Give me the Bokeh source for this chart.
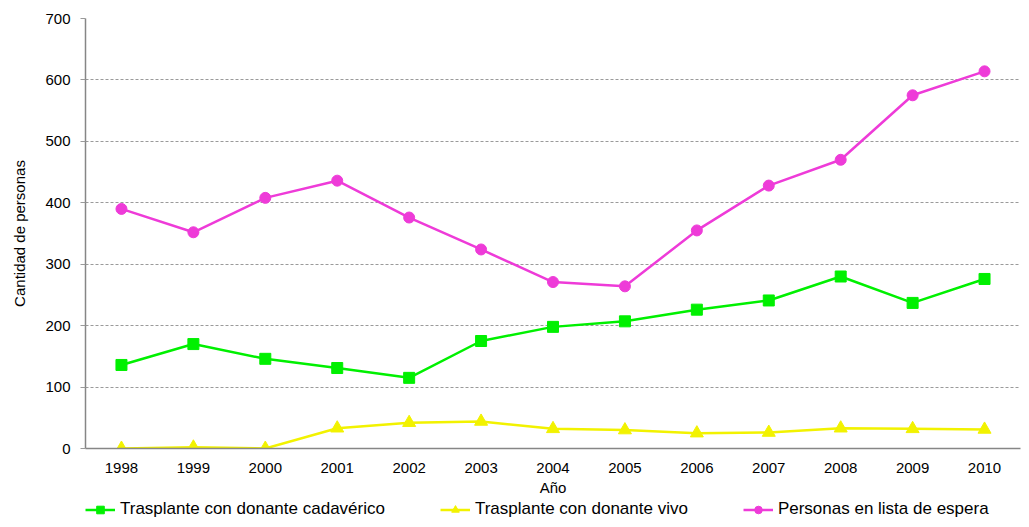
from bokeh.plotting import figure
from bokeh.layouts import column
from bokeh.models import Legend, LegendItem, FixedTicker, FactorRange, Range1d
from bokeh.embed import file_html
from bokeh.resources import INLINE

years = ["1998", "1999", "2000", "2001", "2002", "2003", "2004",
         "2005", "2006", "2007", "2008", "2009", "2010"]
cadaverico = [136, 170, 146, 131, 115, 175, 198, 207, 226, 241, 280, 237, 276]
vivo = [0, 2, 0, 33, 42, 44, 32, 30, 25, 26, 33, 32, 31]
espera = [390, 352, 408, 436, 376, 324, 271, 264, 355, 428, 470, 575, 614]

label_cad = "Trasplante con donante cadavérico"
label_viv = "Trasplante con donante vivo"
label_esp = "Personas en lista de espera"
y_ticks = [0, 100, 200, 300, 400, 500, 600, 700]

GREEN = "#00F000"
YELLOW = "#F2F200"
PINK = "#EE3BD8"
FONT = "Liberation Sans"

p = figure(width=1021, height=498, output_backend="svg", toolbar_location=None,
           x_range=FactorRange(*years, range_padding=0), y_range=Range1d(0, 700),
           min_border_left=85, min_border_top=18, min_border_bottom=48, min_border_right=1)
p.outline_line_color = None

series = [
    (cadaverico, GREEN, "square", 11, label_cad),
    (vivo, YELLOW, "triangle", 13, label_viv),
    (espera, PINK, "circle", 11, label_esp),
]
for vals, col, mk, sz, lab in series:
    p.line(years, vals, line_color=col, line_width=2.5)
    p.scatter(years, vals, marker=mk, size=sz, fill_color=col, line_color=col)

p.xgrid.grid_line_color = None
p.ygrid.grid_line_color = "#9A9A9A"
p.ygrid.grid_line_dash = "3 2"
p.ygrid.grid_line_width = 1

p.yaxis.ticker = FixedTicker(ticks=y_ticks)
for ax in (p.xaxis[0], p.yaxis[0]):
    ax.axis_line_color = "#868686"
    ax.axis_line_width = 1.5
    ax.major_label_text_font = FONT
    ax.major_label_text_font_size = "15px"
    ax.major_label_text_color = "#000000"
    ax.axis_label_text_font = FONT
    ax.axis_label_text_font_style = "normal"
    ax.axis_label_text_font_size = "15px"
    ax.axis_label_text_color = "#000000"
    ax.minor_tick_line_color = None

p.xaxis.major_tick_line_color = None
p.xaxis.major_label_standoff = 8
p.xaxis.axis_label = "Año"
p.xaxis.axis_label_standoff = 3

p.yaxis.major_tick_line_color = "#9A9A9A"
p.yaxis.major_tick_out = 5
p.yaxis.major_tick_in = 0
p.yaxis.major_label_standoff = 10
p.yaxis.axis_label = "Cantidad de personas"
p.yaxis.axis_label_standoff = 14

# legend strip below the chart (its series lie outside its visible range)
p2 = figure(width=1021, height=21, output_backend="svg", toolbar_location=None,
            x_range=FactorRange(*years, range_padding=0), y_range=Range1d(5000, 5001),
            x_axis_type=None, y_axis_type=None, min_border=0)
p2.outline_line_color = None
p2.xgrid.visible = False
p2.ygrid.visible = False
items = []
for vals, col, mk, sz, lab in series:
    rl = p2.line(years, vals, line_color=col, line_width=2.5)
    rs = p2.scatter(years, vals, marker=mk, size=sz, fill_color=col, line_color=col)
    items.append(LegendItem(label=lab, renderers=[rl, rs]))

legend = Legend(items=items, orientation="horizontal", location=(0, 0))
legend.background_fill_alpha = 0
legend.border_line_color = None
legend.padding = 0
legend.margin = 0
legend.spacing = 55
legend.glyph_width = 30
legend.glyph_height = 19
legend.label_height = 19
legend.label_standoff = 5
legend.label_text_font = FONT
legend.label_text_font_size = "17px"
legend.label_text_color = "#000000"
p2.add_layout(legend, "center")

layout = column(p, p2, spacing=0)
open("out.html", "w").write(file_html(layout, INLINE))
